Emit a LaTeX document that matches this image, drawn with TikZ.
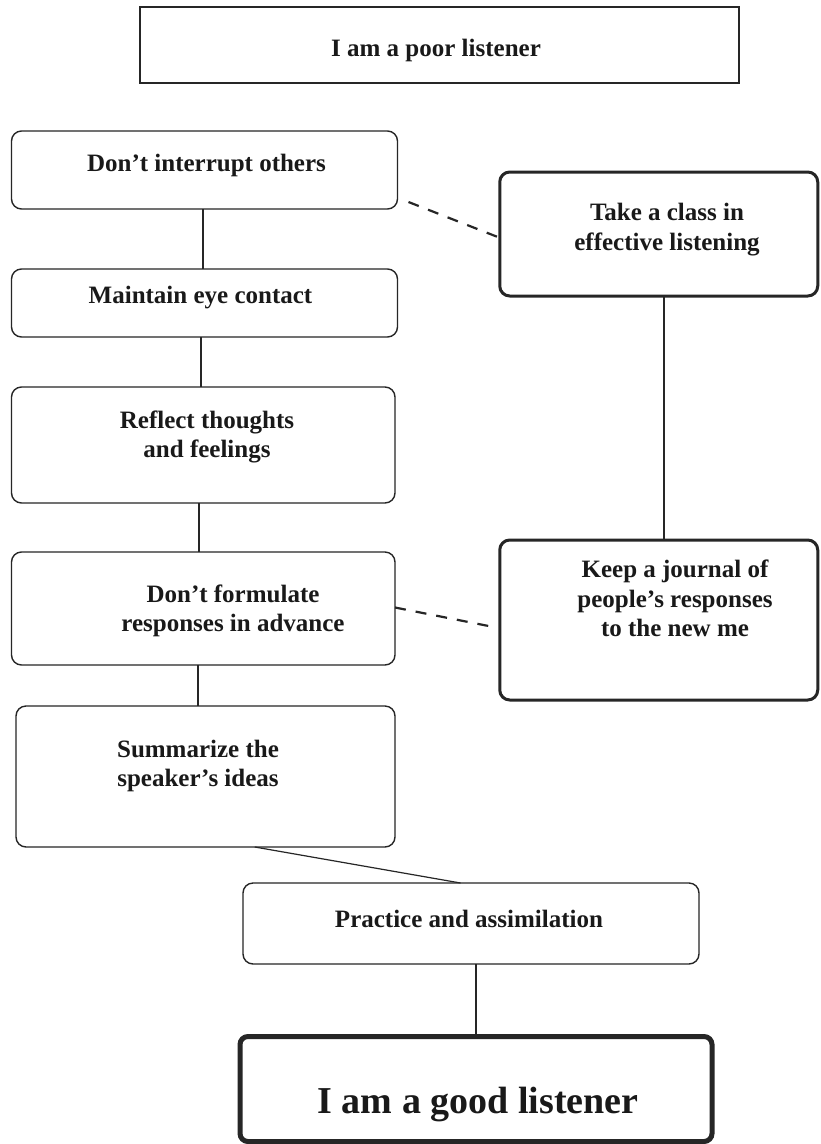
\documentclass[tikz,border=0pt]{standalone}
\usepackage{fontspec}
\setmainfont{Liberation Serif}
\usetikzlibrary{calc}
\begin{document}
\begin{tikzpicture}[x=1pt,y=-1pt,
  box/.style={draw=black!85, line width=1.4pt, rounded corners=10pt, inner sep=0pt, outer sep=0pt},
  heavybox/.style={box, line width=3pt},
  plainbox/.style={draw=black!85, line width=2.4pt, inner sep=0pt, outer sep=0pt},
  goodbox/.style={draw=black!85, line width=5pt, rounded corners=8pt, inner sep=0pt, outer sep=0pt},
  txt/.style={anchor=base, inner sep=0pt, font=\fontsize{25}{29}\selectfont\bfseries, text=black!90},
  bigtxt/.style={anchor=base, inner sep=0pt, font=\fontsize{38}{44}\selectfont\bfseries, text=black!90},
  link/.style={draw=black!85, line width=1.8pt},
  thinlink/.style={draw=black!85, line width=1.2pt},
  dashlink/.style={draw=black!85, line width=2.2pt, dash pattern=on 11pt off 10pt}
]
\useasboundingbox (0,0) rectangle (820,1144);
\fill[white] (0,0) rectangle (820,1144);

% boxes
\node[plainbox, minimum width=599pt, minimum height=76pt] (top) at (439.5,45) {};
\node[box, minimum width=386pt, minimum height=78pt] (dint) at (204.5,170) {};
\node[heavybox, minimum width=318pt, minimum height=124pt] (take) at (658.75,234) {};
\node[box, minimum width=386pt, minimum height=68pt] (main) at (204.5,303) {};
\node[box, minimum width=383.5pt, minimum height=116pt] (refl) at (203.25,445) {};
\node[box, minimum width=383.5pt, minimum height=113pt] (dfor) at (203.25,608.5) {};
\node[heavybox, minimum width=318pt, minimum height=160pt] (keep) at (658.75,620) {};
\node[box, minimum width=379pt, minimum height=141pt] (summ) at (205.5,776.5) {};
\node[box, minimum width=456pt, minimum height=81pt] (prac) at (471,923.5) {};
\node[goodbox, minimum width=472pt, minimum height=105pt] (good) at (476,1089) {};

% texts
\node[txt] (ttop) at (436,56) {I am a poor listener};
\node[txt] (tdint) at (206.5,171) {Don’t interrupt others};
\node[txt] (ttakea) at (667,220) {Take a class in};
\node[txt] (ttakeb) at (667,250) {effective listening};
\node[txt] (tmain) at (200.5,303) {Maintain eye contact};
\node[txt] (trefla) at (207,428) {Reflect thoughts};
\node[txt] (treflb) at (207,457) {and feelings};
\node[txt] (tdfora) at (233,602) {Don’t formulate};
\node[txt] (tdforb) at (233,631) {responses in advance};
\node[txt] (tkeepa) at (675,577) {Keep a journal of};
\node[txt] (tkeepb) at (675,607) {people’s responses};
\node[txt] (tkeepc) at (675,636) {to the new me};
\node[txt] (tsumma) at (198,757) {Summarize the};
\node[txt] (tsummb) at (198,786) {speaker’s ideas};
\node[txt] (tprac) at (469,927) {Practice and assimilation};
\node[bigtxt] (tgood) at (478,1113) {I am a good listener};

% connectors
\draw[link] ([xshift=-1.5pt]dint.south) -- ([xshift=-1.5pt]dint.south |- main.north);
\draw[link] ([xshift=-3.5pt]main.south) -- ([xshift=-3.5pt]main.south |- refl.north);
\draw[link] ([xshift=-4pt]refl.south) -- ([xshift=-4pt]refl.south |- dfor.north);
\draw[link] ([xshift=-5pt]dfor.south) -- ([xshift=-5pt]dfor.south |- summ.north);
\draw[link] ([xshift=5pt]take.south) -- ([xshift=5pt]take.south |- keep.north);
\draw[link] ([xshift=5pt]prac.south) -- ([xshift=5pt]prac.south |- good.north);
\draw[thinlink] ($(summ.south west)!0.63!(summ.south east)$) -- ($(prac.north west)!0.477!(prac.north east)$);
\draw[dashlink] ([xshift=11pt,yshift=7pt]dint.south east) -- ([xshift=-2pt,yshift=-3pt]take.west);
\draw[dashlink] ([xshift=0pt,yshift=1pt]dfor.east) -- ([xshift=-6pt,yshift=-7pt]keep.west);
\end{tikzpicture}
\end{document}
